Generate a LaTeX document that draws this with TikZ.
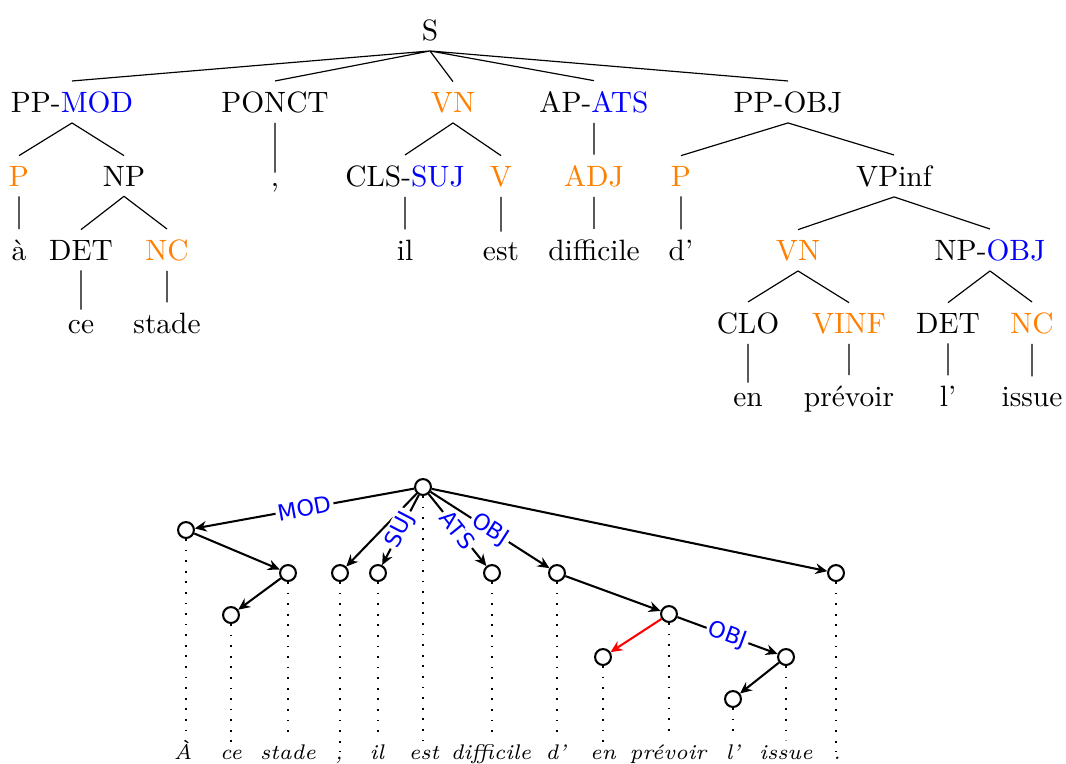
\documentclass[tikz,border=0pt]{standalone}
\usepackage{fontspec}
\usepackage{tikz}
\usetikzlibrary{arrows.meta}

\newfontfamily\deplabfont{DejaVu Sans}
\colorlet{fncolor}{blue}
\colorlet{tagcolor}{orange}
\newcommand{\gfn}[1]{\textcolor{fncolor}{#1}}
\newcommand{\gtag}[1]{\textcolor{tagcolor}{#1}}

\tikzset{
  cat/.style = {anchor=base, inner sep=3.3pt},
  word/.style = {anchor=base, inner sep=1.5pt, font=\fontsize{7.2}{9}\selectfont\itshape},
  dep/.style = {circle, draw, fill=white, line width=0.7pt, minimum size=5.4pt, inner sep=0pt},
  deparc/.style = {-{Stealth[length=4pt, width=3.6pt, inset=1.3pt]}, line width=0.7pt},
  rel/.style = {font=\deplabfont\fontsize{7.6}{9}\selectfont, text=fncolor, fill=white, sloped, inner sep=0.8pt},
  guide/.style = {dash pattern=on 0.6pt off 3pt, line width=0.6pt}
}

\begin{document}
\begin{tikzpicture}[x=0.34pt, y=-0.34pt]
    \useasboundingbox (0,0) rectangle (1066,763);

    % constituent tree
    \node (S) [cat] at (430,40) {S};

    \node (ppmod) [cat] at (72,112) {PP-\gfn{MOD}};
    \node (ponct) [cat] at (275,112) {PONCT};
    \node (vn1) [cat] at (453,112) {\gtag{VN}};
    \node (apats) [cat] at (594,112) {AP-\gfn{ATS}};
    \node (ppobj) [cat] at (788,112) {PP-OBJ};

    \node (p1) [cat] at (19,186) {\gtag{P}};
    \node (np1) [cat] at (124,186) {NP};
    \node (comma) [cat] at (275,186) {,};
    \node (cls) [cat] at (405,186) {CLS-\gfn{SUJ}};
    \node (v) [cat] at (501,186) {\gtag{V}};
    \node (adj) [cat] at (594,186) {\gtag{ADJ}};
    \node (p2) [cat] at (681,186) {\gtag{P}};
    \node (vpinf) [cat] at (894,186) {VPinf};

    \node (a) [cat] at (19,260) {à};
    \node (det1) [cat] at (81,260) {DET};
    \node (nc1) [cat] at (167,260) {\gtag{NC}};
    \node (il) [cat] at (405,260) {il};
    \node (est) [cat] at (501,260) {est};
    \node (diff) [cat] at (594,260) {difficile};
    \node (de) [cat] at (681,260) {d’};
    \node (vn2) [cat] at (798,260) {\gtag{VN}};
    \node (npobj) [cat] at (990,260) {NP-\gfn{OBJ}};

    \node (ce) [cat] at (81,333) {ce};
    \node (stade) [cat] at (167,333) {stade};
    \node (clo) [cat] at (748,333) {CLO};
    \node (vinf) [cat] at (849,333) {\gtag{VINF}};
    \node (det2) [cat] at (948,333) {DET};
    \node (nc2) [cat] at (1032,333) {\gtag{NC}};

    \node (en) [cat] at (748,406) {en};
    \node (prevoir) [cat] at (849,406) {prévoir};
    \node (l) [cat] at (948,406) {l’};
    \node (issue) [cat] at (1032,406) {issue};

    \draw (S.south) -- (ppmod.north)  (S.south) -- (ponct.north)
          (S.south) -- (vn1.north)    (S.south) -- (apats.north)
          (S.south) -- (ppobj.north)
          (ppmod.south) -- (p1.north)   (ppmod.south) -- (np1.north)
          (ponct.south) -- (comma.north)
          (vn1.south) -- (cls.north)    (vn1.south) -- (v.north)
          (apats.south) -- (adj.north)
          (ppobj.south) -- (p2.north)   (ppobj.south) -- (vpinf.north)
          (p1.south) -- (a.north)
          (np1.south) -- (det1.north)   (np1.south) -- (nc1.north)
          (cls.south) -- (il.north)     (v.south) -- (est.north)
          (adj.south) -- (diff.north)   (p2.south) -- (de.north)
          (vpinf.south) -- (vn2.north)  (vpinf.south) -- (npobj.north)
          (det1.south) -- (ce.north)    (nc1.south) -- (stade.north)
          (vn2.south) -- (clo.north)    (vn2.south) -- (vinf.north)
          (npobj.south) -- (det2.north) (npobj.south) -- (nc2.north)
          (clo.south) -- (en.north)     (vinf.south) -- (prevoir.north)
          (det2.south) -- (l.north)     (nc2.south) -- (issue.north);

    % dependency tree
    \node (d1) [dep] at (186,530) {};
    \node (d2) [dep] at (231,615) {};
    \node (d3) [dep] at (288,573) {};
    \node (d4) [dep] at (340,573) {};
    \node (d5) [dep] at (378,573) {};
    \node (d6) [dep] at (423,487) {};
    \node (d7) [dep] at (492,573) {};
    \node (d8) [dep] at (557,573) {};
    \node (d9) [dep] at (603,657) {};
    \node (d10) [dep] at (669,614) {};
    \node (d11) [dep] at (733,699) {};
    \node (d12) [dep] at (786,657) {};
    \node (d13) [dep] at (836,573) {};

    \node (t1) [word] at (183,759) {À};
    \node (t2) [word] at (231,759) {ce};
    \node (t3) [word] at (288,759) {stade};
    \node (t4) [word] at (339,759) {,};
    \node (t5) [word] at (377,759) {il};
    \node (t6) [word] at (424,759) {est};
    \node (t7) [word] at (491,759) {difficile};
    \node (t8) [word] at (556,759) {d’};
    \node (t9) [word] at (603,759) {en};
    \node (t10) [word] at (668,759) {prévoir};
    \node (t11) [word] at (733,759) {l’};
    \node (t12) [word] at (786,759) {issue};
    \node (t13) [word] at (837,759) {.};

    \foreach \i in {1,...,13}
        \draw [guide] (d\i.south) -- (d\i.south |- t\i.north);

    \path [deparc]
      (d6) edge node [rel] {MOD} (d1)
      (d1) edge (d3)
      (d3) edge (d2)
      (d6) edge (d4)
      (d6) edge node [rel] {SUJ} (d5)
      (d6) edge node [rel] {ATS} (d7)
      (d6) edge node [rel] {OBJ} (d8)
      (d6) edge (d13)
      (d8) edge (d10)
      (d10) edge [red] (d9)
      (d10) edge node [rel] {OBJ} (d12)
      (d12) edge (d11);
\end{tikzpicture}
\end{document}
